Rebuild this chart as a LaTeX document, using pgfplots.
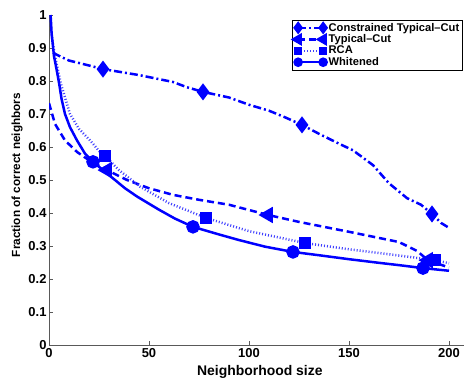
\documentclass[border=0pt]{standalone}
\usepackage{pgfplots}
\pgfplotsset{compat=1.18}
\usepackage{fontspec}
\setmainfont{Liberation Sans}
\begin{document}
\begin{tikzpicture}
\begin{axis}[
  at={(49bp,35bp)}, anchor=south west,
  scale only axis, width=415bp, height=330bp,
  xmin=0, xmax=207.5, ymin=0, ymax=1,
  axis x line*=bottom, axis y line*=left,
  axis line style={-, black!65, line width=1bp},
  tick style={black!65, line width=0.8bp},
  major tick length=4bp, tick align=inside,
  xtick={0,50,100,150,200},
  ytick={0,0.1,0.2,0.3,0.4,0.5,0.6,0.7,0.8,0.9,1},
  /pgf/number format/assume math mode=true,
  yticklabel style={/pgf/number format/fixed, /pgf/number format/precision=1, xshift=1bp},
  ticklabel style={font=\bfseries\fontsize{13}{13}\selectfont},
  xlabel={Neighborhood size}, ylabel={Fraction of correct neighbors},
  xlabel style={font=\bfseries\fontsize{14}{14}\selectfont, at={(axis description cs:0.508,-0.082)}, anchor=center},
  ylabel style={font=\bfseries\fontsize{11.8}{12}\selectfont, at={(axis description cs:-0.077,0.515)}, anchor=center},
  legend style={font=\bfseries\fontsize{11.2}{11.5}\selectfont, draw=black, line width=0.6bp,
    at={(axis description cs:0.996,0.985)}, anchor=north east,
    inner sep=0.8bp, row sep=-2bp, cells={anchor=west}},
  legend image code/.code={\draw[#1] plot coordinates {(0bp,0bp) (25bp,0bp)};},
  clip=true,
]
\addlegendimage{blue, line width=2.5bp, dash pattern=on 8bp off 3bp on 2bp off 3bp, mark=diamond*, mark size=4.5bp, mark options={solid, fill=blue}}
\addlegendentry{Constrained Typical--Cut}
\addlegendimage{blue, line width=2.5bp, dash pattern=on 7bp off 4bp, mark=triangle*, mark size=5bp, mark options={solid, fill=blue, rotate=90}}
\addlegendentry{Typical--Cut}
\addlegendimage{blue!75, line width=2.5bp, dash pattern=on 1bp off 2bp, mark=square*, mark size=3bp, mark options={solid, draw=blue, fill=blue}}
\addlegendentry{RCA}
\addlegendimage{blue, line width=2.5bp, mark=*, mark size=3.5bp, mark options={solid, fill=blue}}
\addlegendentry{Whitened}

\addplot[forget plot, blue, line width=2.5bp, dash pattern=on 8bp off 3bp on 2bp off 3bp,
  mark=diamond*, mark size=6.5bp, mark options={solid, fill=blue}, mark indices={4,8,13,21}]
coordinates {(2,0.885) (10,0.862) (20,0.847) (27,0.836) (45,0.818) (62,0.797) (69,0.781)
 (77,0.767) (90,0.750) (100,0.728) (110,0.71) (118,0.69) (126.5,0.667) (135,0.64)
 (145,0.61) (152,0.59) (162,0.545) (170,0.49) (179,0.445) (186,0.425) (191.5,0.397)
 (196,0.37) (200,0.355)};

\addplot[forget plot, blue, line width=2.5bp, dash pattern=on 7bp off 4bp,
  mark=triangle*, mark size=7bp, mark options={solid, fill=blue, rotate=90}, mark indices={6,12,17}]
coordinates {(0,0.733) (3,0.67) (8,0.62) (14,0.585) (20,0.56) (29,0.53) (39,0.50)
 (50,0.475) (62,0.455) (75,0.44) (90,0.425) (109.5,0.394) (125,0.373) (150,0.343)
 (175,0.312) (184,0.285) (189.5,0.257) (195,0.245) (200,0.235)};

\addplot[forget plot, blue!75, line width=2.5bp, dash pattern=on 1bp off 2bp,
  mark=square*, mark size=4.5bp, mark options={solid, draw=blue, fill=blue}, mark indices={8,12,14,17}]
coordinates {(1,0.95) (3,0.875) (6,0.79) (10.5,0.70) (15,0.655) (20.5,0.62) (25.5,0.585)
 (28,0.573) (35,0.53) (45.5,0.48) (60,0.43) (78.5,0.385) (100,0.345) (128,0.309)
 (150,0.29) (170,0.275) (193,0.257) (200,0.248)};

\addplot[forget plot, blue, line width=2.5bp,
  mark=*, mark size=5.5bp, mark options={solid, fill=blue}, mark indices={11,18,22,27}]
coordinates {(0.8,1.0) (1.3,0.945) (2.5,0.875) (3.8,0.835) (5,0.795) (6.3,0.745) (8,0.70)
 (10.5,0.66) (14,0.62) (18,0.58) (22,0.555) (27,0.53) (32,0.505) (38,0.475) (44,0.45)
 (55,0.41) (63,0.383) (72,0.358) (85,0.335) (95,0.318) (108,0.298) (122,0.282)
 (135,0.272) (150,0.26) (165,0.249) (175,0.242) (187,0.233) (200,0.225)};
\end{axis}
\pgfresetboundingbox
\path (0,0) rectangle (464bp,380bp);
\end{tikzpicture}
\end{document}
